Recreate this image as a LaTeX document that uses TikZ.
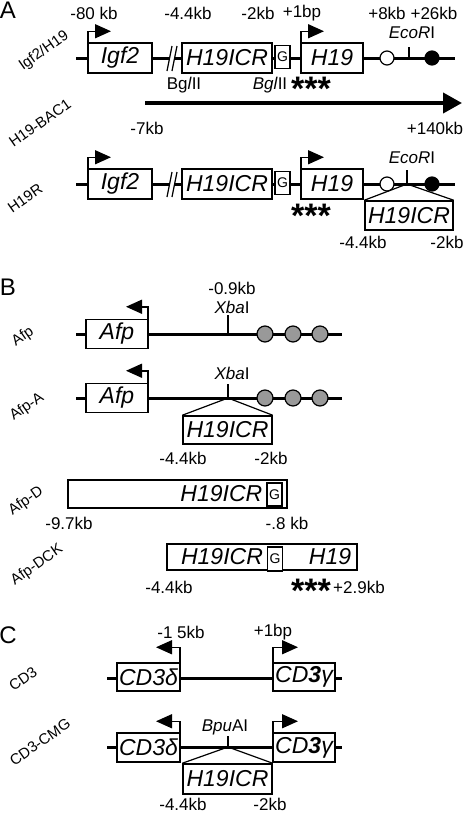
\documentclass[tikz,border=0pt]{standalone}
\usepackage{fontspec}
\setmainfont{Liberation Sans}
\usetikzlibrary{arrows.meta}

\begin{document}
\begin{tikzpicture}[x=1pt,y=-1pt,
  dna/.style={line width=3pt},
  gbox/.style={draw, line width=1.5pt, fill=white, inner sep=0pt,
    font=\itshape\fontsize{23}{23}\selectfont},
  gsite/.style={draw, line width=1.2pt, fill=white, inner sep=0pt,
    minimum width=15pt, minimum height=23pt, font=\fontsize{14}{14}\selectfont},
  lbl/.style={inner sep=0pt, font=\fontsize{17}{17}\selectfont},
  rowname/.style={inner sep=0pt, rotate=35, font=\fontsize{15}{15}\selectfont},
  panel/.style={inner sep=0pt, font=\fontsize{24}{24}\selectfont},
  stars/.style={inner sep=0pt, anchor=base, font=\bfseries\fontsize{34}{34}\selectfont},
  promoter/.style={line width=1.5pt, -{Triangle[length=16pt,width=14pt]}},
  site/.style={line width=1.2pt},
  opensite/.style={circle, draw, line width=1.2pt, fill=white, minimum size=14pt, inner sep=0pt},
  fullsite/.style={circle, draw, line width=1.2pt, fill=black, minimum size=14pt, inner sep=0pt},
  enhancer/.style={circle, draw, line width=1.2pt, fill=gray!80, minimum size=16pt, inner sep=0pt},
  bac/.style={line width=4pt, -{Triangle[length=19pt,width=20pt]}}]
\useasboundingbox (0,0) rectangle (466,814);

% ---------- A ----------
\node[panel] (pA) at (8,10) {A};
\node[rowname] (nIgf) at (44,51) {Igf2/H19};
\node[rowname] (nBac) at (40,123) {H19-BAC1};
\node[rowname] (nH19R) at (25,198) {H19R};

% Igf2/H19 locus
\coordinate (a1l) at (76,58);
\coordinate (a1r) at (455,58);
\draw[dna] (a1l) -- (a1r);
\node[gbox, minimum width=64pt, minimum height=30pt] (igfA) at (120,58) {Igf2};
\fill[white] (167,71) -- (172,46) -- (177,46) -- (172,71) -- cycle;
\draw[site] (167,71) -- (172,46) (172,71) -- (177,46);
\node[gbox, minimum width=90pt, minimum height=30pt] (icrA) at (227,58) {H19ICR};
\node[gsite] (gA) at (282.5,57) {G};
\node[gbox, minimum width=62pt, minimum height=30pt] (h19A) at (332,58) {H19};
\node[opensite] (cA) at (387,58) {};
\node[fullsite] (fA) at (432,58) {};
\coordinate (ecoA) at (409,58);
\draw[site] (ecoA) -- ++(0,-11);
\draw[promoter] ([xshift=0.75pt]igfA.north west) -- ++(0,-11) -- ++(23,0);
\draw[promoter] ([xshift=0.75pt]h19A.north west) -- ++(0,-11) -- ++(23,0);

\node[lbl] (kb80) at (94,13) {-80 kb};
\node[lbl] (kb44A) at (188,13) {-4.4kb};
\node[lbl] (kb2A) at (258,13) {-2kb};
\node[lbl] (bp1A) at (302,13) {+1bp};
\node[lbl] (kb8) at (387,13) {+8kb};
\node[lbl] (kb26) at (434,13) {+26kb};
\node[lbl] (ecoLA) at (412,33) {\itshape EcoR\upshape I};
\node[lbl] (bgl1) at (184,85) {Bg\textit{l}II};
\node[lbl] (bgl2) at (270,85) {\textit{Bgl}II};
\node[stars] (stA) at (311,100) {***};

% H19-BAC1
\coordinate (bacS) at (145,103);
\coordinate (bacE) at (462,103);
\draw[bac] (bacS) -- (bacE);
\node[lbl] (kb7) at (147,128) {-7kb};
\node[lbl] (kb140) at (435,128) {+140kb};

% H19R
\begin{scope}[shift={(0,126)}]
  \coordinate (a2l) at (76,58);
  \coordinate (a2r) at (455,58);
  \draw[dna] (a2l) -- (a2r);
  \node[gbox, minimum width=64pt, minimum height=30pt] (igfR) at (120,58) {Igf2};
  \fill[white] (167,71) -- (172,46) -- (177,46) -- (172,71) -- cycle;
  \draw[site] (167,71) -- (172,46) (172,71) -- (177,46);
  \node[gbox, minimum width=90pt, minimum height=30pt] (icrR) at (227,58) {H19ICR};
  \node[gsite] (gR) at (282.5,57) {G};
  \node[gbox, minimum width=62pt, minimum height=30pt] (h19R) at (332,58) {H19};
  \node[opensite] (cR) at (387,58) {};
  \node[fullsite] (fR) at (432,58) {};
  \coordinate (ecoR) at (407,58);
  \node[gbox, minimum width=88pt, minimum height=29pt] (insR) at (409,89.5) {H19ICR};
  \draw[site] (insR.north west) -- (ecoR) -- (insR.north east);
  \draw[site] (ecoR) -- ++(0,-14);
  \draw[promoter] ([xshift=0.75pt]igfR.north west) -- ++(0,-11) -- ++(23,0);
  \draw[promoter] ([xshift=0.75pt]h19R.north west) -- ++(0,-11) -- ++(23,0);
  \node[lbl] (ecoLR) at (412,32) {\itshape EcoR\upshape I};
  \node[stars] (stR) at (311,101) {***};
  \node[lbl] (kb44R) at (363,116) {-4.4kb};
  \node[lbl] (kb2R) at (447,116) {-2kb};
\end{scope}

% ---------- B ----------
\node[panel] (pB) at (8,287) {B};
\node[rowname] (nAfp) at (23,337) {Afp};
\node[rowname] (nAfpA) at (27,407) {Afp-A};
\node[rowname] (nAfpD) at (26,501) {Afp-D};
\node[rowname] (nAfpDCK) at (37,565) {Afp-DCK};

% Afp
\coordinate (b1l) at (76,334);
\coordinate (b1r) at (342,334);
\draw[dna] (b1l) -- (b1r);
\node[gbox, minimum width=62pt, minimum height=29pt] (afp1) at (117,334) {Afp};
\coordinate (xba1) at (228,334);
\draw[site] (xba1) -- ++(0,-19);
\foreach \x/\n in {265/1,293/2,320/3}
  \node[enhancer] (enh1\n) at (\x,334) {};
\draw[promoter] ([xshift=-0.75pt]afp1.north east) -- ++(0,-12) -- ++(-22,0);
\node[lbl] (kb09) at (232,288) {-0.9kb};
\node[lbl] (xbaL1) at (232,307) {\itshape Xba\upshape I};

% Afp-A
\coordinate (b2l) at (76,398);
\coordinate (b2r) at (342,398);
\draw[dna] (b2l) -- (b2r);
\node[gbox, minimum width=62pt, minimum height=29pt] (afp2) at (117,398) {Afp};
\coordinate (xba2) at (228,398);
\node[gbox, minimum width=89pt, minimum height=28pt] (ins2) at (227.5,430) {H19ICR};
\draw[site] (ins2.north west) -- (xba2) -- (ins2.north east);
\draw[site] (xba2) -- ++(0,-14);
\foreach \x/\n in {265/1,293/2,320/3}
  \node[enhancer] (enh2\n) at (\x,398) {};
\draw[promoter] ([xshift=-0.75pt]afp2.north east) -- ++(0,-12) -- ++(-22,0);
\node[lbl] (xbaL2) at (232,373) {\itshape Xba\upshape I};
\node[lbl] (kb44B) at (183,458) {-4.4kb};
\node[lbl] (kb2B) at (271,458) {-2kb};

% Afp-D
\node[gbox, minimum width=219pt, minimum height=28pt] (afpD) at (177.5,494) {};
\node[gbox, draw=none, fill=none, anchor=east] (icrD) at (263,494) {H19ICR};
\node[gsite] (gD) at (274.5,494.5) {G};
\node[lbl] (kb97) at (69,523) {-9.7kb};
\node[lbl] (kb08) at (287,523) {-.8 kb};

% Afp-DCK
\node[gbox, minimum width=190pt, minimum height=26pt] (afpDCK) at (262,557) {};
\node[gbox, draw=none, fill=none] (icrDCK) at (222,557) {H19ICR};
\node[gsite, minimum height=24pt] (gDCK) at (275,559) {G};
\node[gbox, draw=none, fill=none] (h19DCK) at (330,557) {H19};
\node[lbl] (kb44DCK) at (169,587) {-4.4kb};
\node[stars] (stDCK) at (311,602) {***};
\node[lbl, anchor=west] (kb29) at (333,587) {+2.9kb};

% ---------- C ----------
\node[panel] (pC) at (8,635) {C};
\node[rowname] (nCD3) at (23,679) {CD3};
\node[rowname] (nCMG) at (40,742) {CD3-CMG};

% CD3
\coordinate (c1l) at (107,678);
\coordinate (c1r) at (342,678);
\draw[dna] (c1l) -- (c1r);
\node[gbox, minimum width=63pt, minimum height=28pt] (cdd1) at (148.5,677) {CD3\textit{δ}};
\node[gbox, minimum width=62pt, minimum height=28pt] (cdg1) at (304,677) {CD\textbf{3}\textit{γ}};
\draw[promoter] ([xshift=-0.75pt]cdd1.north east) -- ++(0,-15) -- ++(-24,0);
\draw[promoter] ([xshift=0.75pt]cdg1.north west) -- ++(0,-15) -- ++(25,0);
\node[lbl] (kb15) at (181,632) {-1 5kb};
\node[lbl] (bp1C) at (273,632) {+1bp};

% CD3-CMG
\coordinate (c2l) at (107,747);
\coordinate (c2r) at (342,747);
\draw[dna] (c2l) -- (c2r);
\node[gbox, minimum width=63pt, minimum height=29pt] (cdd2) at (148.5,747.5) {CD3\textit{δ}};
\node[gbox, minimum width=62pt, minimum height=29pt] (cdg2) at (304,747.5) {CD\textbf{3}\textit{γ}};
\coordinate (bpu) at (228,747);
\node[gbox, minimum width=89pt, minimum height=30pt] (insC) at (227.5,779) {H19ICR};
\draw[site] (insC.north west) -- (bpu) -- (insC.north east);
\draw[site] (bpu) -- ++(0,-11);
\draw[promoter] ([xshift=-0.75pt]cdd2.north east) -- ++(0,-11) -- ++(-24,0);
\draw[promoter] ([xshift=0.75pt]cdg2.north west) -- ++(0,-11) -- ++(25,0);
\node[lbl] (bpuL) at (225,727) {\itshape Bpu\upshape AI};
\node[lbl] (kb44C) at (183,804) {-4.4kb};
\node[lbl] (kb2C) at (270,804) {-2kb};
\end{tikzpicture}
\end{document}
